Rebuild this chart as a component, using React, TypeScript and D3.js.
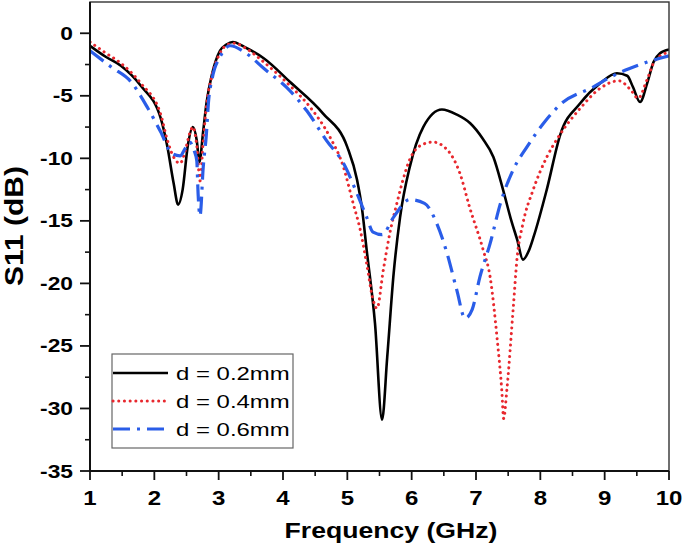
import React from "react";
import * as d3 from "d3";

// ---- data ----
const freqA = [1.0, 1.25, 1.48, 1.79, 2.1, 2.2, 2.3, 2.37, 2.44, 2.52, 2.6, 2.66, 2.7, 2.76, 2.81, 2.9, 3.02, 3.12, 3.22, 3.4, 3.7, 4.11, 4.62, 5.0, 5.15, 5.23, 5.3, 5.43, 5.54, 5.62, 5.72, 5.82, 5.97, 6.18, 6.47, 6.7, 6.91, 7.1, 7.27, 7.42, 7.55, 7.64, 7.73, 7.82, 7.9, 8.1, 8.31, 8.62, 8.93, 9.19, 9.35, 9.44, 9.55, 9.66, 9.76, 9.86, 10.0];
const s11A = [-1.0, -1.9, -2.6, -4.2, -6.8, -9.0, -12.0, -13.7, -12.5, -9.0, -7.5, -8.6, -10.3, -7.8, -5.6, -3.2, -1.4, -0.9, -0.7, -1.1, -2.0, -3.9, -6.4, -9.1, -11.7, -14.1, -17.3, -23.2, -30.9, -25.9, -19.2, -14.7, -10.7, -7.5, -6.1, -6.5, -7.2, -8.4, -9.9, -12.5, -15.0, -16.5, -18.1, -17.4, -16.2, -12.5, -8.1, -5.6, -4.0, -3.2, -3.4, -4.3, -5.5, -4.0, -2.3, -1.6, -1.3];

const freqB = [1.0, 1.25, 1.48, 1.79, 2.1, 2.2, 2.3, 2.4, 2.48, 2.55, 2.6, 2.66, 2.71, 2.76, 2.81, 2.9, 3.02, 3.14, 3.25, 3.45, 3.7, 4.11, 4.42, 4.73, 4.94, 5.09, 5.2, 5.3, 5.4, 5.46, 5.56, 5.66, 5.77, 5.85, 5.97, 6.13, 6.33, 6.55, 6.75, 6.9, 7.11, 7.22, 7.33, 7.4, 7.43, 7.48, 7.58, 7.64, 7.73, 7.89, 8.1, 8.28, 8.62, 8.93, 9.22, 9.4, 9.52, 9.66, 9.78, 10.0];
const s11B = [-0.7, -1.6, -2.4, -4.0, -6.5, -8.5, -9.9, -10.4, -9.4, -8.0, -7.5, -9.0, -11.8, -8.6, -5.8, -3.3, -1.6, -0.9, -0.8, -1.3, -2.3, -4.2, -5.9, -8.3, -10.7, -13.6, -15.7, -18.4, -21.3, -22.0, -18.9, -16.0, -13.6, -12.0, -10.1, -9.0, -8.7, -9.3, -11.2, -13.9, -17.3, -19.5, -24.5, -28.5, -30.8, -28.5, -21.9, -17.9, -15.2, -12.5, -9.9, -8.3, -6.0, -4.4, -3.8, -4.5, -5.2, -3.7, -2.2, -1.5];

const freqC = [1.0, 1.33, 1.64, 1.9, 2.1, 2.27, 2.4, 2.48, 2.55, 2.62, 2.66, 2.68, 2.71, 2.76, 2.81, 2.84, 2.9, 3.02, 3.18, 3.4, 3.7, 4.11, 4.37, 4.68, 4.94, 5.15, 5.3, 5.4, 5.54, 5.72, 5.97, 6.2, 6.39, 6.55, 6.7, 6.83, 6.94, 7.06, 7.22, 7.38, 7.58, 7.79, 8.05, 8.31, 8.82, 9.13, 9.5, 9.66, 9.86, 10.0];
const s11C = [-1.4, -2.7, -3.9, -6.0, -7.9, -9.6, -9.8, -9.2, -8.7, -9.4, -10.2, -12.8, -14.6, -10.7, -8.0, -5.6, -3.6, -1.9, -1.0, -1.5, -2.8, -4.6, -6.2, -8.6, -10.4, -12.8, -14.7, -15.9, -16.1, -14.7, -13.3, -13.6, -15.2, -17.6, -20.5, -22.8, -22.1, -19.5, -16.8, -13.6, -10.9, -9.1, -7.2, -5.7, -4.3, -3.4, -2.6, -2.3, -2.0, -1.8];

const seriesNames = ["d = 0.2mm", "d = 0.4mm", "d = 0.6mm"];
const xTicks = [1, 2, 3, 4, 5, 6, 7, 8, 9, 10];
const yTicks = [0, -5, -10, -15, -20, -25, -30, -35];
const xLabel = "Frequency (GHz)";
const yLabel = "S11 (dB)";

const FONT = "'Liberation Sans', Arial, Helvetica, sans-serif";

function SText(props: any) {
  const { x, y, size, weight, anchor, sx, rotate, children } = props;
  const t = `translate(${x},${y})${rotate ? ` rotate(${rotate})` : ""} scale(${sx || 1},1)`;
  return (
    <text
      transform={t}
      fontSize={size}
      fontWeight={weight || "normal"}
      textAnchor={anchor || "start"}
      fontFamily={FONT}
      fill="#000"
    >
      {children}
    </text>
  );
}

export default function App() {
  const W = 685;
  const H = 546;
  const x = d3.scaleLinear().domain([1, 10]).range([90, 669]);
  const y = d3.scaleLinear().domain([-35, 2.5]).range([471, 2]);

  const line = d3
    .line<[number, number]>()
    .x((d) => x(d[0]))
    .y((d) => y(d[1]))
    .curve(d3.curveMonotoneX);

  const zip = (f: number[], v: number[]) => f.map((ff, i) => [ff, v[i]] as [number, number]);

  const series = [
    { name: seriesNames[0], data: zip(freqA, s11A), color: "#000000", width: 2.6, dash: undefined as any, cap: "butt" },
    { name: seriesNames[1], data: zip(freqB, s11B), color: "#e8282e", width: 3, dash: "0.1 5.6", cap: "round" },
    { name: seriesNames[2], data: zip(freqC, s11C), color: "#2a5de8", width: 3.2, dash: "17 7 3 7", cap: "butt" },
  ];

  const xMinor = d3.range(1.5, 10, 1);
  const yMinor = d3.range(-32.5, 0, 5);

  const [x0, x1] = x.range();
  const [y0, y1] = [y(-35), 2];

  const legendRows = [373, 401, 429];

  return (
    <svg
      width={W}
      height={H}
      style={{ position: "absolute", left: 0, top: 0, background: "#fff" }}
    >
      <rect x={0} y={0} width={W} height={H} fill="#fff" />
      <defs>
        <clipPath id="plot">
          <rect x={x0} y={y1} width={x1 - x0} height={y0 - y1} />
        </clipPath>
      </defs>

      {/* curves */}
      <g clipPath="url(#plot)">
        {series.map((s) => (
          <path
            key={s.name}
            d={line(s.data) || ""}
            fill="none"
            stroke={s.color}
            strokeWidth={s.width}
            strokeDasharray={s.dash}
            strokeLinecap={s.cap as any}
            strokeLinejoin="round"
          />
        ))}
      </g>

      {/* frame */}
      <rect x={x0} y={y1} width={x1 - x0} height={y0 - y1} fill="none" stroke="#333" strokeWidth={1.4} />
      <line x1={x0} x2={x0} y1={y1} y2={y0} stroke="#111" strokeWidth={2} />
      <line x1={x0} x2={x1} y1={y0} y2={y0} stroke="#111" strokeWidth={2} />

      {/* x ticks */}
      {xTicks.map((t) => (
        <g key={"xt" + t}>
          <line x1={x(t)} x2={x(t)} y1={y0} y2={y0 + 9} stroke="#111" strokeWidth={1.8} />
          <SText x={x(t)} y={505} size={20} weight="bold" anchor="middle" sx={1.2}>
            {String(t)}
          </SText>
        </g>
      ))}
      {xMinor.map((t) => (
        <line key={"xm" + t} x1={x(t)} x2={x(t)} y1={y0} y2={y0 + 5} stroke="#111" strokeWidth={1.6} />
      ))}

      {/* y ticks */}
      {yTicks.map((t) => (
        <g key={"yt" + t}>
          <line x1={x0 - 10} x2={x0} y1={y(t)} y2={y(t)} stroke="#111" strokeWidth={1.8} />
          <SText x={73} y={y(t) + 6.5} size={19} weight="bold" anchor="end" sx={1.2}>
            {String(t)}
          </SText>
        </g>
      ))}
      {yMinor.map((t) => (
        <line key={"ym" + t} x1={x0 - 5} x2={x0} y1={y(t)} y2={y(t)} stroke="#111" strokeWidth={1.6} />
      ))}

      {/* axis labels */}
      <SText x={391} y={538} size={22} weight="bold" anchor="middle" sx={1.21}>
        {xLabel}
      </SText>
      <SText x={23} y={226} size={25} weight="bold" anchor="middle" sx={1.2} rotate={-90}>
        {yLabel}
      </SText>

      {/* legend */}
      <rect x={112} y={354} width={181} height={94} fill="#fff" stroke="#666" strokeWidth={1.2} />
      {series.map((s, i) => (
        <g key={"lg" + i}>
          <line
            x1={113}
            x2={168}
            y1={legendRows[i]}
            y2={legendRows[i]}
            stroke={s.color}
            strokeWidth={s.width}
            strokeDasharray={s.dash}
            strokeLinecap={s.cap as any}
          />
          <SText x={176} y={legendRows[i] + 6.5} size={19} anchor="start" sx={1.26}>
            {s.name}
          </SText>
        </g>
      ))}
    </svg>
  );
}
